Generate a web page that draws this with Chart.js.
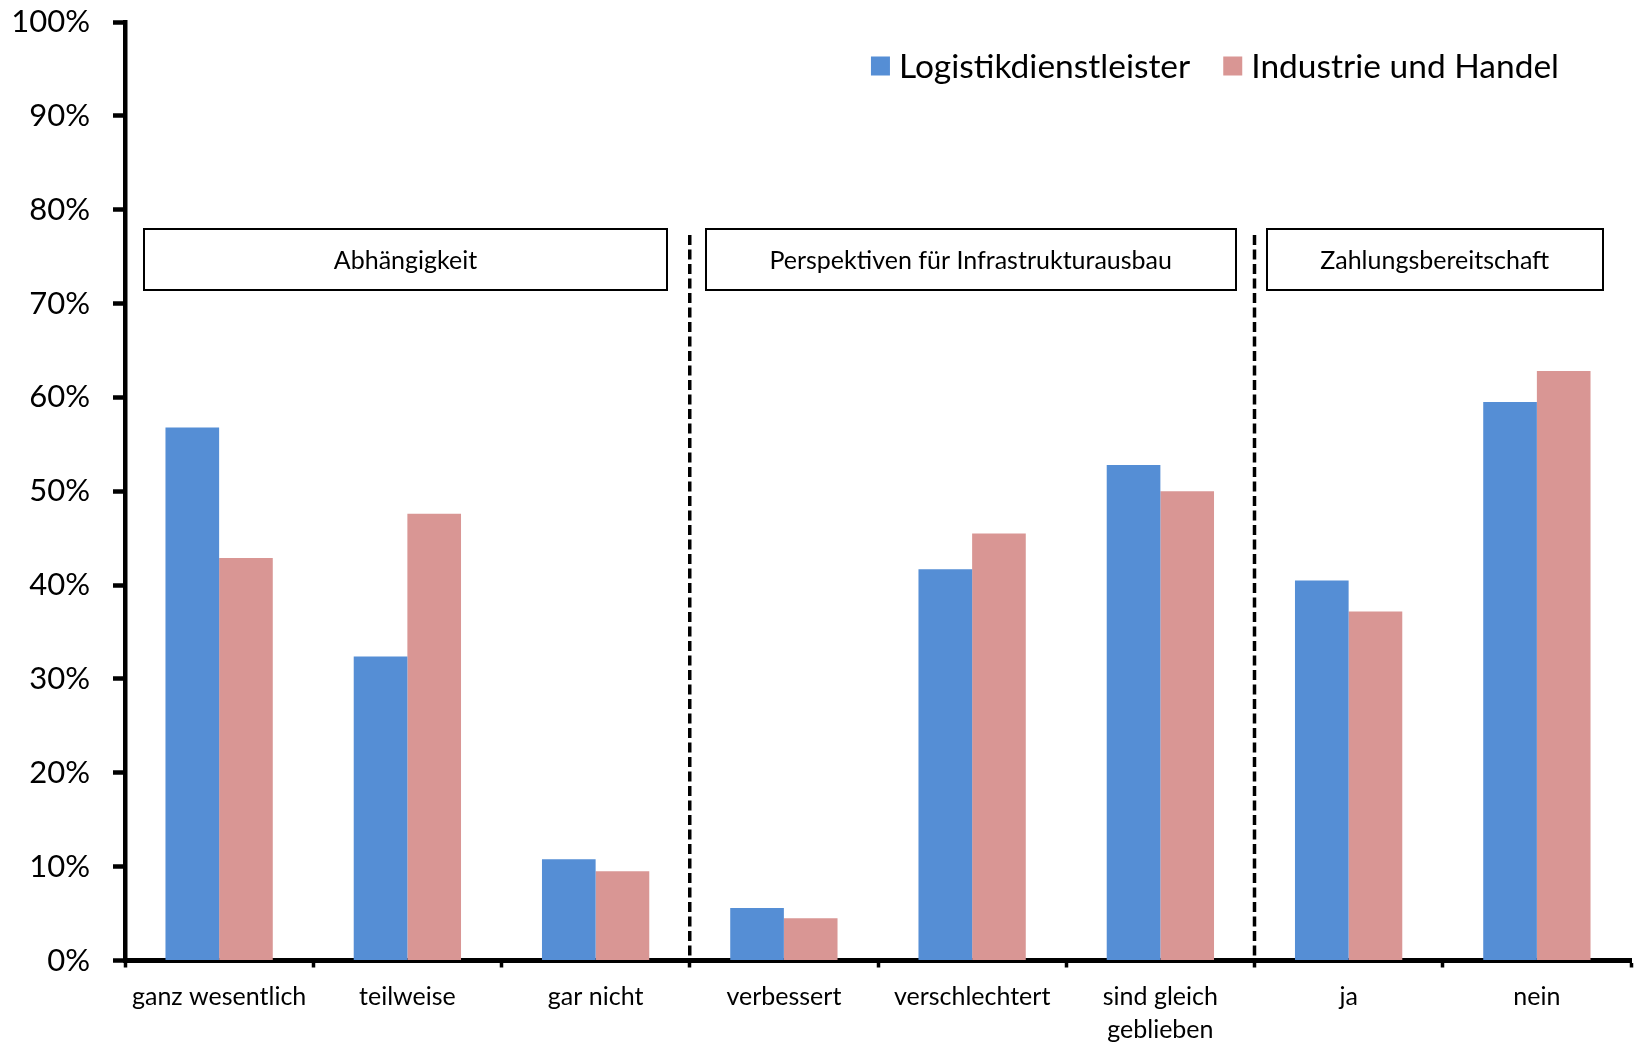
<!DOCTYPE html>
<html>
<head>
<meta charset="utf-8">
<script src="https://cdn.jsdelivr.net/npm/chart.js@4/dist/chart.umd.min.js"></script>
<style>
  html, body { margin: 0; padding: 0; background: #fff; }
  canvas { display: block; }
</style>
</head>
<body>
<canvas id="c" width="1637" height="1044"></canvas>
<script>
// ---- data ----
const categories = ['ganz wesentlich', 'teilweise', 'gar nicht', 'verbessert', 'verschlechtert', ['sind gleich', 'geblieben'], 'ja', 'nein'];
const seriesNames = ['Logistikdienstleister', 'Industrie und Handel'];
const logistikValues = [56.8, 32.4, 10.8, 5.6, 41.7, 52.8, 40.5, 59.5];
const industrieValues = [42.9, 47.6, 9.5, 4.5, 45.5, 50.0, 37.2, 62.8];
const groupNames = ['Abhängigkeit', 'Perspektiven für Infrastrukturausbau', 'Zahlungsbereitschaft'];
const groupFirst = [0, 3, 6];
const groupLast = [2, 5, 7];
const yMin = 0, yMax = 100, yStep = 10;

// ---- style / layout ----
const FONT = 'Lato';
const colors = ['#558ED5', '#D99694'];
// box extents expressed in category-index units (layout only)
const boxExtents = [[-0.40, 2.38], [2.585, 5.40], [5.565, 7.35]];

const overlay = {
  id: 'overlay',
  afterDraw(chart) {
    const ctx = chart.ctx;
    const xs = chart.scales.x;
    const area = chart.chartArea;
    ctx.save();
    // dashed separators
    ctx.strokeStyle = '#000';
    ctx.lineWidth = 3.5;
    ctx.setLineDash([10, 4.5]);
    for (let g = 0; g < groupFirst.length - 1; g++) {
      const x = (xs.getPixelForValue(groupLast[g]) + xs.getPixelForValue(groupFirst[g + 1])) / 2;
      ctx.beginPath();
      ctx.moveTo(x, 235);
      ctx.lineTo(x, area.bottom);
      ctx.stroke();
    }
    ctx.setLineDash([]);
    // group boxes
    const step = xs.getPixelForValue(1) - xs.getPixelForValue(0);
    const boxTop = 229, boxBottom = 290;
    ctx.lineWidth = 2;
    ctx.font = '25px ' + FONT;
    ctx.textAlign = 'center';
    ctx.textBaseline = 'middle';
    for (let g = 0; g < groupNames.length; g++) {
      const l = xs.getPixelForValue(0) + boxExtents[g][0] * step;
      const r = xs.getPixelForValue(0) + boxExtents[g][1] * step;
      ctx.fillStyle = '#fff';
      ctx.fillRect(l, boxTop, r - l, boxBottom - boxTop);
      ctx.strokeRect(Math.round(l), boxTop, Math.round(r - l), boxBottom - boxTop);
      ctx.fillStyle = '#000';
      ctx.fillText(groupNames[g], (l + r) / 2, (boxTop + boxBottom) / 2 + 1);
    }
    // legend (top right, inside plot)
    ctx.font = '33.5px ' + FONT;
    ctx.textAlign = 'left';
    ctx.textBaseline = 'middle';
    const sq = 19, gapSq = 9, gapItem = 33, rightEnd = 1559, cy = 66;
    const widths = seriesNames.map(n => ctx.measureText(n).width);
    let total = 0;
    widths.forEach((w, i) => { total += sq + gapSq + w + (i < widths.length - 1 ? gapItem : 0); });
    let x = rightEnd - total;
    seriesNames.forEach((n, i) => {
      ctx.fillStyle = colors[i];
      ctx.fillRect(x, cy - sq / 2, sq, sq);
      ctx.fillStyle = '#000';
      ctx.fillText(n, x + sq + gapSq, cy + 1);
      x += sq + gapSq + widths[i] + gapItem;
    });
    ctx.restore();
  }
};

new Chart(document.getElementById('c'), {
  type: 'bar',
  data: {
    labels: categories,
    datasets: [
      { label: seriesNames[0], data: logistikValues, backgroundColor: colors[0], borderWidth: 0 },
      { label: seriesNames[1], data: industrieValues, backgroundColor: colors[1], borderWidth: 0 }
    ]
  },
  options: {
    responsive: false,
    devicePixelRatio: 1,
    animation: false,
    layout: { padding: { top: 22, right: 6, left: 0, bottom: 0 } },
    datasets: { bar: { categoryPercentage: 0.57, barPercentage: 1.0 } },
    plugins: { legend: { display: false }, tooltip: { enabled: false } },
    scales: {
      x: {
        offset: true,
        grid: { display: true, offset: true, drawOnChartArea: false, drawTicks: true, tickLength: 7, tickWidth: 3.5, tickColor: '#000' },
        border: { display: true, color: '#000', width: 5 },
        ticks: { color: '#000', font: { family: FONT, size: 25, lineHeight: 1.32 }, padding: 13, autoSkip: false, maxRotation: 0, minRotation: 0 },
        afterFit(scale) { scale.height = 83.5; scale.paddingLeft = 0; scale.paddingRight = 0; }
      },
      y: {
        min: yMin, max: yMax,
        grid: { display: true, drawOnChartArea: false, drawTicks: true, tickLength: 12, tickWidth: 4.5, tickColor: '#000' },
        border: { display: true, color: '#000', width: 4.5 },
        ticks: { stepSize: yStep, color: '#000', font: { family: FONT, size: 31 }, padding: 23, callback: v => v + '%' },
        afterFit(scale) { scale.width = 125; scale.paddingTop = 0; scale.paddingBottom = 0; }
      }
    }
  },
  plugins: [overlay]
});
</script>
</body>
</html>
